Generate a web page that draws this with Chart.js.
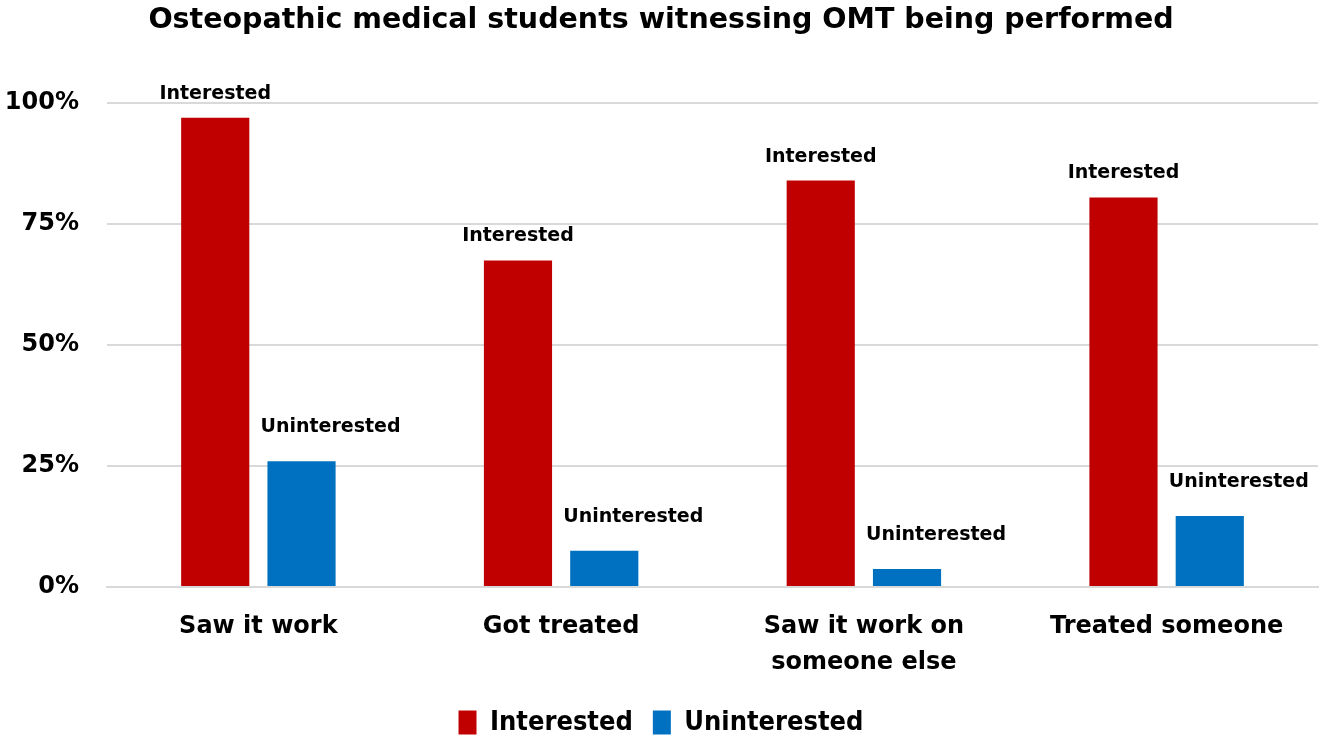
<!DOCTYPE html>
<html>
<head>
<meta charset="utf-8">
<script src="https://cdn.jsdelivr.net/npm/chart.js@4/dist/chart.umd.min.js"></script>
<style>
  html, body { margin: 0; padding: 0; background: #fff; }
  canvas { display: block; }
</style>
</head>
<body>
<canvas id="diagramm" width="1328" height="742"></canvas>
<script>
const kategorien = ['Saw it work', 'Got treated', ['Saw it work on', 'someone else'], 'Treated someone'];
const interessiert = [97, 67.5, 84, 80.5];
const uninteressiert = [26, 7.5, 3.7, 14.7];
const yTicks = [0, 25, 50, 75, 100];

const schrift = "'DejaVu Sans', 'Liberation Sans', Arial, sans-serif";
const schmal = "'DejaVu Sans Condensed', 'DejaVu Sans', sans-serif";

// Beschriftung über den Balken (Serienname)
const balkenText = {
  id: 'balkenText',
  afterDatasetsDraw(chart) {
    const ctx = chart.ctx;
    ctx.save();
    ctx.font = 'bold 19px ' + schrift;
    ctx.fillStyle = '#000';
    ctx.textAlign = 'center';
    ctx.textBaseline = 'middle';
    chart.data.datasets.forEach((ds, i) => {
      const meta = chart.getDatasetMeta(i);
      const dx = i === 0 ? 0 : 29;
      const dy = i === 0 ? -24 : -34;
      meta.data.forEach(bar => {
        ctx.fillText(ds.label, bar.x + dx, bar.y + dy);
      });
    });
    ctx.restore();
  }
};

const diagramm = new Chart(document.getElementById('diagramm').getContext('2d'), {
  type: 'bar',
  data: {
    labels: kategorien,
    datasets: [{
      label: 'Interested',
      data: interessiert,
      backgroundColor: '#C00000',
      categoryPercentage: 0.57,
      barPercentage: 0.79
    }, {
      label: 'Uninterested',
      data: uninteressiert,
      backgroundColor: '#0070C0',
      categoryPercentage: 0.57,
      barPercentage: 0.79
    }]
  },
  options: {
    responsive: false,
    animation: false,
    layout: { padding: { left: 4, right: 10, top: 0, bottom: -4 } },
    plugins: {
      title: {
        display: true,
        text: 'Osteopathic medical students witnessing OMT being performed',
        color: '#000',
        font: { family: schrift, size: 28.5, weight: 'bold' },
        padding: { top: 3, bottom: 66 }
      },
      legend: {
        position: 'bottom',
        labels: {
          color: '#000',
          font: { family: schmal, size: 27, weight: 'bold' },
          boxWidth: 18,
          boxHeight: 24,
          padding: 20
        }
      },
      tooltip: { enabled: false }
    },
    scales: {
      y: {
        min: 0,
        max: 100,
        afterBuildTicks: axis => { axis.ticks = yTicks.map(v => ({ value: v })); },
        afterFit: axis => { axis.width = 103; },
        ticks: {
          color: '#000',
          font: { family: schrift, size: 24, weight: 'bold' },
          padding: 28,
          callback: v => v + '%'
        },
        grid: { color: '#d9d9d9', lineWidth: 2, drawTicks: false },
        border: { display: false }
      },
      x: {
        afterFit: axis => { axis.height = 102; },
        ticks: {
          color: '#000',
          font: { family: schrift, size: 24, weight: 'bold', lineHeight: 1.5 },
          padding: 14
        },
        grid: { display: false },
        border: { color: '#d9d9d9', width: 2 }
      }
    }
  },
  plugins: [balkenText]
});
</script>
</body>
</html>
